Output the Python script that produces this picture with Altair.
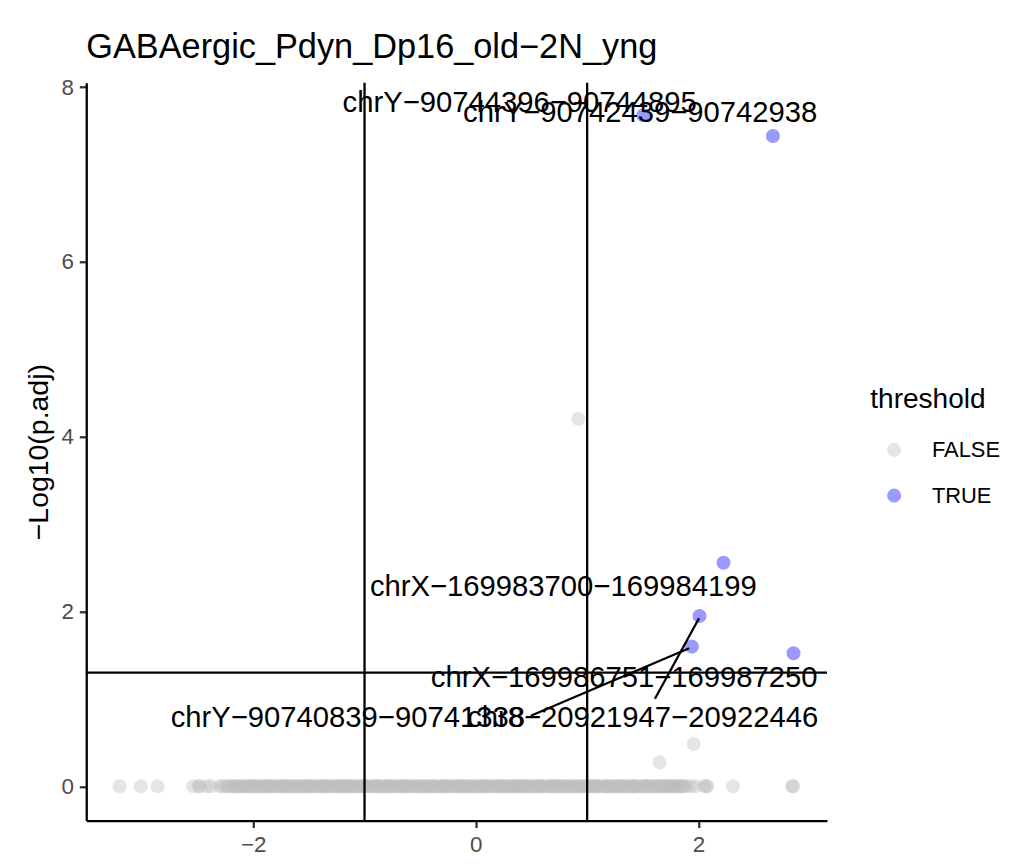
import altair as alt
import pandas as pd

# ---------------- data ----------------
title_text = "GABAergic_Pdyn_Dp16_old\u22122N_yng"

# non-significant peaks (threshold FALSE) lying on -log10(p.adj) = 0
false_zero_x = [
    -3.20, -3.01, -2.86, -2.54, -2.49, -2.48, -2.42, -2.38,
    -2.30, -2.28, -2.25, -2.23, -2.21, -2.18, -2.16, -2.13, -2.11, -2.09,
    -2.06, -2.04, -2.01, -1.99, -1.96, -1.94, -1.92, -1.89, -1.87, -1.84,
    -1.82, -1.79, -1.77, -1.75, -1.72, -1.70, -1.67, -1.65, -1.62, -1.60,
    -1.58, -1.55, -1.53, -1.50, -1.48, -1.46, -1.43, -1.41, -1.38, -1.36,
    -1.33, -1.31, -1.29, -1.26, -1.24, -1.21, -1.19, -1.16, -1.14, -1.12,
    -1.09, -1.07, -1.04, -1.02, -0.99, -0.97, -0.95, -0.92, -0.90, -0.87,
    -0.85, -0.83, -0.80, -0.78, -0.75, -0.73, -0.70, -0.68, -0.66, -0.63,
    -0.61, -0.58, -0.56, -0.53, -0.51, -0.49, -0.46, -0.44, -0.41, -0.39,
    -0.36, -0.34, -0.32, -0.29, -0.27, -0.24, -0.22, -0.20, -0.17, -0.15,
    -0.12, -0.10, -0.07, -0.05, -0.03, 0.00, 0.02, 0.05, 0.07, 0.10,
    0.12, 0.14, 0.17, 0.19, 0.22, 0.24, 0.27, 0.29, 0.31, 0.34,
    0.36, 0.39, 0.41, 0.43, 0.46, 0.48, 0.51, 0.53, 0.56, 0.58,
    0.60, 0.63, 0.65, 0.68, 0.70, 0.73, 0.75, 0.77, 0.80, 0.82,
    0.85, 0.87, 0.89, 0.92, 0.94, 0.97, 0.99, 1.02, 1.04, 1.06,
    1.09, 1.11, 1.14, 1.16, 1.19, 1.21, 1.23, 1.26, 1.28, 1.31,
    1.33, 1.35, 1.38, 1.40, 1.43, 1.45, 1.48, 1.50, 1.52, 1.55,
    1.57, 1.60, 1.62, 1.65, 1.67, 1.70, 1.72, 1.74, 1.77, 1.79,
    1.82, 1.84, 1.87, 1.89, 1.93, 1.97, 2.05, 2.07, 2.08, 2.31,
    2.84, 2.85,
    # further peaks packed into the dense band
    -2.19, -2.14, -2.07, -2.02, -1.97, -1.90, -1.85, -1.80, -1.73, -1.68,
    -1.63, -1.56, -1.51, -1.44, -1.39, -1.34, -1.27, -1.22, -1.17, -1.10,
    -1.05, -1.00, -0.93, -0.88, -0.81, -0.76, -0.71, -0.64, -0.59, -0.54,
    -0.47, -0.42, -0.37, -0.30, -0.25, -0.18, -0.13, -0.08, -0.01, 0.04,
    0.09, 0.15, 0.20, 0.26, 0.32, 0.37, 0.42, 0.49, 0.54, 0.59,
    0.66, 0.71, 0.76, 0.83, 0.88, 0.93, 1.00, 1.05, 1.10, 1.17,
    1.22, 1.27, 1.34, 1.39, 1.44, 1.51, 1.56, 1.61, 1.68, 1.73,
    1.78, 1.83,
    -2.12, -1.98, -1.86, -1.74, -1.61, -1.49, -1.37, -1.25, -1.13, -1.01,
    -0.89, -0.77, -0.65, -0.52, -0.40, -0.28, -0.16, -0.04, 0.08, 0.21,
    0.33, 0.45, 0.57, 0.69, 0.81, 0.95, 1.07, 1.18, 1.30, 1.42,
    1.54, 1.66, 1.76, 1.86,
]

# non-significant peaks above zero
false_up_x = [0.921, 1.956, 1.651]
false_up_y = [4.206, 0.484, 0.274]

# significant peaks (threshold TRUE)
true_x = [1.505, 2.669, 2.225, 2.009, 1.941, 2.854]
true_y = [7.677, 7.440, 2.557, 1.949, 1.598, 1.523]

# cut-offs
fc_cut = [-1, 1]
p_cut = [1.3]

# repelled labels (text, position of label)
label_text = [
    "chrY\u221290744396\u221290744895",
    "chrY\u221290742439\u221290742938",
    "chrX\u2212169983700\u2212169984199",
    "chrX\u2212169986751\u2212169987250",
    "chrY\u221290740839\u221290741338",
    "chr8\u221220921947\u221220922446",
]
label_x = [0.394, 1.476, 0.786, 1.333, -1.150, 1.499]
label_y = [7.720, 7.600, 2.172, 1.138, 0.682, 0.674]

# connector segments of the repelled labels
seg_x = [2.005, 1.916]
seg_y = [1.922, 1.580]
seg_x2 = [1.609, 0.494]
seg_y2 = [1.001, 0.807]

x_ticks = [-2, 0, 2]
y_ticks = [0, 2, 4, 6, 8]

# ---------------- tables ----------------
pts = pd.DataFrame({
    "x": false_zero_x + false_up_x + true_x,
    "y": [0.0] * len(false_zero_x) + false_up_y + true_y,
    "threshold": ["FALSE"] * (len(false_zero_x) + len(false_up_x)) + ["TRUE"] * len(true_x),
})
vl = pd.DataFrame({"x": fc_cut})
hl = pd.DataFrame({"y": p_cut})
labs = pd.DataFrame({"x": label_x, "y": label_y, "label": label_text})
segs = pd.DataFrame({"x": seg_x, "y": seg_y, "x2": seg_x2, "y2": seg_y2})

FONT = "Liberation Sans"
XDOM = [-3.50, 3.155]
YDOM = [-0.392, 8.049]
xs = alt.Scale(domain=XDOM, nice=False, zero=False)
ys = alt.Scale(domain=YDOM, nice=False, zero=False)
xax = alt.Axis(values=x_ticks, title="log2FoldChange")
yax = alt.Axis(values=y_ticks, title="\u2212Log10(p.adj)")

def X():
    return alt.X("x:Q", scale=xs, axis=xax, title="log2FoldChange")

def Y():
    return alt.Y("y:Q", scale=ys, axis=yax, title="\u2212Log10(p.adj)")

PT = 200

points = alt.Chart(pts).mark_circle(size=PT, opacity=0.4).encode(
    x=X(), y=Y(),
    color=alt.Color("threshold:N",
                    scale=alt.Scale(domain=["FALSE", "TRUE"], range=["#BEBEBE", "#0000FF"]),
                    legend=alt.Legend(title="threshold", orient="none",
                                      legendX=788.5, legendY=305,
                                      symbolOpacity=0.4, symbolSize=PT,
                                      symbolType="circle",
                                      symbolOffset=13, labelOffset=27,
                                      titlePadding=25, rowPadding=24,
                                      padding=0)),
)

vrules = alt.Chart(vl).mark_rule(color="black", strokeWidth=2.3).encode(x=X())
hrules = alt.Chart(hl).mark_rule(color="black", strokeWidth=2.3).encode(y=Y())
segments = alt.Chart(segs).mark_rule(color="black", strokeWidth=2.3).encode(
    x=X(), y=Y(), x2="x2:Q", y2="y2:Q")
texts = alt.Chart(labs).mark_text(font=FONT, fontSize=29.4, color="black",
                                  align="center", baseline="alphabetic").encode(
    x=X(), y=Y(), text="label:N")

chart = alt.layer(points, vrules, hrules, segments, texts).properties(
    width=745, height=742,
    title=alt.TitleParams(title_text, anchor="start", frame="group",
                          font=FONT, fontSize=34.5, fontWeight="normal",
                          color="black", offset=11),
    autosize=alt.AutoSizeParams(type="none"),
    padding={"left": 78.7, "top": 72.7, "right": 180, "bottom": 70},
).configure_view(stroke=None).configure_axis(
    grid=False, domainColor="black", domainWidth=2.3,
    tickColor="#333333", tickWidth=2.3, tickSize=7,
    labelColor="#4D4D4D", labelFont=FONT, labelFontSize=22.5, labelPadding=6,
    titleFont=FONT, titleFontSize=28.6, titleFontWeight="normal", titleColor="black",
    titlePadding=7,
).configure_legend(
    titleFont=FONT, titleFontSize=28.2, titleFontWeight="normal", titleColor="black",
    labelFont=FONT, labelFontSize=22, labelColor="black",
)

chart.save("out.html", embed_options={"renderer": "svg", "actions": False})
